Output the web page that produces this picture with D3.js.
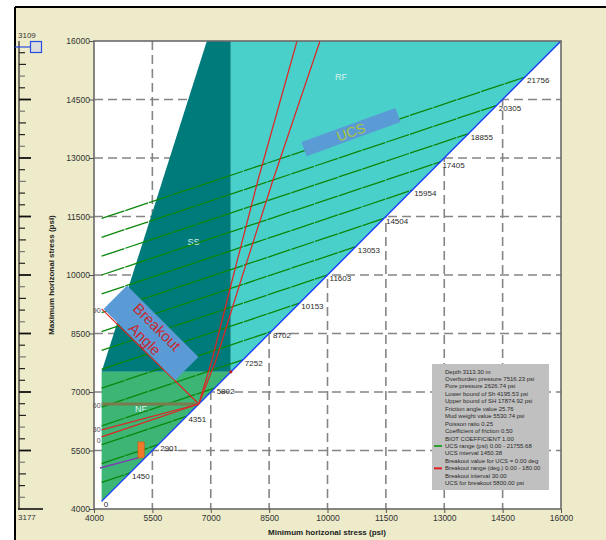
<!DOCTYPE html>
<html><head><meta charset="utf-8">
<script src="https://cdn.jsdelivr.net/npm/d3@7"></script>
<style>
html,body{margin:0;padding:0;background:#fff;}
svg{display:block;font-family:"Liberation Sans",Arial,sans-serif;}
</style></head><body>
<svg id="chart" width="606" height="540"></svg>
<script>
// ---- axis ticks (psi) ----
const xTicks = [4000, 5500, 7000, 8500, 10000, 11500, 13000, 14500, 16000];
const yTicks = [4000, 5500, 7000, 8500, 10000, 11500, 13000, 14500, 16000];
const gridValues = [5500, 7000, 8500, 10000, 11500, 13000, 14500];

// ---- stress state ----
const overburden = 7516.23;
const shLowerBound = 4195.53;

// faulting regime polygons, points as [Shmin, SHmax]
const nfRegion = [[4195.53, 4195.53], [4195.53, 7516.23], [7516.23, 7516.23]];
const ssRegion = [[4195.53, 7516.23], [6900, 16000], [7516.23, 16000], [7516.23, 7516.23]];
const rfRegion = [[7516.23, 7516.23], [7516.23, 16000], [16000, 16000]];
const regimeNames = ["NF", "SS", "RF"];
const regimeLabelAt = [[5210, 6480], [6560, 10780], [10350, 14990]];

// UCS contours: SHmax where each contour leaves Shmin = lower bound,
// and the stress where it meets the Shmin = SHmax line
const ucsLabels = ["0", "1450", "2901", "4351", "5802", "7252", "8702", "10153",
                   "11603", "13053", "14504", "15954", "17405", "18855", "20305", "21756"];
const ucsStartSH = [4198, 4681, 5165, 5648, 6132, 6615, 7099, 7582,
                    8066, 8549, 9033, 9516, 10000, 10483, 10967, 11450];
const ucsEndS = [4199, 4924, 5650, 6375, 7100, 7825, 8550, 9276,
                 10001, 10726, 11451, 12176, 12902, 13627, 14352, 15077];

// measured contour segment and marker
const measuredContour = [[4155, 5051], [5200, 5330]];
const measuredMarker = {shmin: [5130, 5290], shmax: [5310, 5720]};

// breakout-angle lines
const breakoutLines = [
  {label: "90", color: "#e02424", pts: [[4195.53, 9130], [6692, 6692]]},
  {label: "60", color: "#7b7a4c", pts: [[4195.53, 6692], [6692, 6692]]},
  {label: "30", color: "#e02424", pts: [[4195.53, 6030], [6692, 6692]]},
  {label: "0",  color: "#e02424", pts: [[4195.53, 5850], [6692, 6692]]},
  {label: "",   color: "#e02424", pts: [[6692, 6692], [7032, 7821], [7572, 9949], [8214, 12436], [9217, 16000]]},
  {label: "",   color: "#e02424", pts: [[6692, 6692], [7135, 7821], [7803, 9949], [8600, 12436], [9807, 16000]]}
];

// depth slider
const depthTop = "3109", depthBottom = "3177";
const rulerTickCount = 40;

// info panel
const infoLines = [
  {t: "Depth 3113.30 m"},
  {t: "Overburden pressure 7516.23 psi"},
  {t: "Pore pressure 2626.74 psi"},
  {t: "Lower bound of Sh 4195.53 psi"},
  {t: "Upper bound of SH 17874.92 psi"},
  {t: "Friction angle value 25.76"},
  {t: "Mud weight value 5530.74 psi"},
  {t: "Poisson ratio 0.25"},
  {t: "Coefficient of friction 0.50"},
  {t: "BIOT COEFFICIENT 1.00"},
  {t: "UCS range (psi) 0.00 - 21755.68", swatch: "#2ca02c"},
  {t: "UCS interval 1450.38"},
  {t: "Breakout value for UCS = 0.00 deg"},
  {t: "Breakout range (deg.) 0.00 - 180.00", swatch: "#e02020"},
  {t: "Breakout interval 30.00"},
  {t: "UCS for breakout 5800.00 psi"}
];

const svg = d3.select("#chart");
const W = 606, H = 540;

// window background
svg.append("rect").attr("x", 15).attr("y", 7).attr("width", W - 15).attr("height", H - 7).attr("fill", "#edebc9");
svg.append("line").attr("x1", 15).attr("x2", W).attr("y1", 7).attr("y2", 7).attr("stroke", "#000").attr("stroke-width", 2);
svg.append("line").attr("x1", 15).attr("x2", 15).attr("y1", 7).attr("y2", H).attr("stroke", "#000").attr("stroke-width", 2);

const x = d3.scaleLinear().domain([4000, 16000]).range([94, 561]);
const y = d3.scaleLinear().domain([4000, 16000]).range([509, 41]);

// plot background
svg.append("rect").attr("x", x(4000)).attr("y", y(16000))
  .attr("width", x(16000) - x(4000)).attr("height", y(4000) - y(16000)).attr("fill", "#fff");

// grid
const grid = svg.append("g").attr("stroke", "#858585").attr("stroke-width", 1.6).attr("stroke-dasharray", "9,5");
grid.selectAll(".gv").data(gridValues).join("line")
  .attr("x1", d => x(d)).attr("x2", d => x(d)).attr("y1", y(16000)).attr("y2", y(4000));
grid.selectAll(".gh").data(gridValues).join("line")
  .attr("y1", d => y(d)).attr("y2", d => y(d)).attr("x1", x(4000)).attr("x2", x(16000));

// regime fills
const poly = d3.line().x(d => x(d[0])).y(d => y(d[1]));
const regions = [nfRegion, ssRegion, rfRegion];
const regionColors = ["#3db575", "#007b7b", "#4ad0ca"];
svg.append("g").selectAll("path").data(regions).join("path")
  .attr("d", d => poly(d) + "Z").attr("fill", (d, i) => regionColors[i]);

svg.append("g").selectAll("text").data(regimeNames).join("text")
  .attr("x", (d, i) => x(regimeLabelAt[i][0])).attr("y", (d, i) => y(regimeLabelAt[i][1]))
  .attr("font-size", 9).attr("fill", "#d9f2ee").attr("text-anchor", "middle").text(d => d);

// UCS contours
const ucsG = svg.append("g");
ucsG.selectAll("line").data(ucsLabels).join("line")
  .attr("x1", x(shLowerBound)).attr("y1", (d, i) => y(ucsStartSH[i]))
  .attr("x2", (d, i) => x(ucsEndS[i])).attr("y2", (d, i) => y(ucsEndS[i]))
  .attr("stroke", "#0b870b").attr("stroke-width", 1.3).attr("stroke-dasharray", "24,1");
ucsG.selectAll("text").data(ucsLabels).join("text")
  .attr("x", (d, i) => x(ucsEndS[i]) + 2).attr("y", (d, i) => y(ucsEndS[i]) + 6)
  .attr("font-size", 8).attr("fill", "#2a2a2a").text(d => d);

// measured contour and marker
svg.append("path").attr("d", poly(measuredContour)).attr("stroke", "#7a3fb0").attr("stroke-width", 1.5).attr("fill", "none");
svg.append("rect")
  .attr("x", x(measuredMarker.shmin[0])).attr("y", y(measuredMarker.shmax[1]))
  .attr("width", x(measuredMarker.shmin[1]) - x(measuredMarker.shmin[0]))
  .attr("height", y(measuredMarker.shmax[0]) - y(measuredMarker.shmax[1]))
  .attr("fill", "#f07a2a").attr("stroke", "#c85a10").attr("stroke-width", 0.6);

// Shmin = SHmax line
svg.append("line").attr("x1", x(shLowerBound)).attr("y1", y(shLowerBound))
  .attr("x2", x(16000)).attr("y2", y(16000)).attr("stroke", "#1a3cff").attr("stroke-width", 1.4);

// breakout lines
const boG = svg.append("g");
boG.selectAll("path").data(breakoutLines).join("path")
  .attr("d", d => poly(d.pts)).attr("fill", "none").attr("stroke", d => d.color)
  .attr("stroke-width", d => d.label === "60" ? 3 : 1.2);
boG.selectAll("text").data(breakoutLines.filter(d => d.label)).join("text")
  .attr("x", d => x(d.pts[0][0]) - 1)
  .attr("y", d => y(d.pts[0][1]) + (d.label === "0" ? 6 : d.label === "30" ? 2 : 4))
  .attr("text-anchor", "end").attr("font-size", 7).attr("fill", "#444").text(d => d.label);
svg.append("circle").attr("cx", x(overburden)).attr("cy", y(overburden)).attr("r", 1.6).attr("fill", "#c02020");

// annotation boxes
function tag(cx, cy, w, h, ang, lines, color, fs) {
  const g = svg.append("g").attr("transform", `translate(${cx},${cy}) rotate(${ang})`);
  g.append("rect").attr("x", -w / 2).attr("y", -h / 2).attr("width", w).attr("height", h).attr("fill", "#5b9bd5");
  lines.forEach((t, i) => {
    g.append("text").attr("x", 0).attr("y", (i - (lines.length - 1) / 2) * fs * 1.15 + fs * 0.36)
      .attr("text-anchor", "middle").attr("font-size", fs).attr("fill", color).text(t);
  });
}
tag(x(10604), y(13666), 100, 15, -20, ["UCS"], "#a9c43c", 14);
tag(x(5465), y(8513), 101, 33, 45, ["Breakout", "Angle"], "#c8282c", 15);

// frame
svg.append("rect").attr("x", x(4000)).attr("y", y(16000))
  .attr("width", x(16000) - x(4000)).attr("height", y(4000) - y(16000))
  .attr("fill", "none").attr("stroke", "#6a6a6a").attr("stroke-width", 1.6);

// axes
const xAxis = d3.axisBottom(x).tickValues(xTicks).tickSize(4).tickFormat(d3.format("d"));
const yAxis = d3.axisLeft(y).tickValues(yTicks).tickSize(5).tickFormat(d3.format("d"));
const gx = svg.append("g").attr("transform", `translate(0,${y(4000)})`).call(xAxis);
const gy = svg.append("g").attr("transform", `translate(${x(4000)},0)`).call(yAxis);
[gx, gy].forEach(g => {
  g.select(".domain").remove();
  g.selectAll("line").attr("stroke", "#555");
  g.selectAll("text").attr("font-size", 8.5).attr("fill", "#333").attr("font-family", "Liberation Sans, Arial, sans-serif");
});
gy.selectAll("text").attr("x", -4).attr("dy", "0.35em");
gx.selectAll("text").attr("y", 6);

svg.append("text").attr("x", 327).attr("y", 535).attr("text-anchor", "middle")
  .attr("font-size", 8).attr("font-weight", "bold").attr("fill", "#222").text("Minimum horizonal stress (psi)");
svg.append("text").attr("transform", "translate(54,275) rotate(-90)").attr("text-anchor", "middle")
  .attr("font-size", 8).attr("font-weight", "bold").attr("fill", "#222").text("Maximum horizonal stress (psi)");

// depth slider
const r = d3.scaleLinear().domain([0, rulerTickCount]).range([y(16000), y(4000)]);
const ruler = svg.append("g");
ruler.append("line").attr("x1", 19).attr("x2", 19).attr("y1", r(0)).attr("y2", r(rulerTickCount)).attr("stroke", "#222").attr("stroke-width", 1.2);
ruler.append("line").attr("x1", 18).attr("x2", 43).attr("y1", r(rulerTickCount)).attr("y2", r(rulerTickCount)).attr("stroke", "#111").attr("stroke-width", 1.6);
ruler.selectAll(".tk").data(d3.range(1, rulerTickCount)).join("line")
  .attr("x1", 19).attr("x2", d => d % 5 === 0 ? 31 : (d % 5 === 2 ? 26 : 25))
  .attr("y1", d => r(d)).attr("y2", d => r(d))
  .attr("stroke", d => d % 5 === 0 ? "#111" : (d % 3 === 0 ? "#777" : "#222"))
  .attr("stroke-width", d => d % 5 === 0 ? 1.8 : 1.2);
ruler.append("text").attr("x", 18).attr("y", 38).attr("font-size", 8).attr("fill", "#333").text(depthTop);
ruler.append("text").attr("x", 18).attr("y", 520).attr("font-size", 8).attr("fill", "#333").text(depthBottom);
ruler.append("line").attr("x1", 15).attr("x2", 31).attr("y1", 47).attr("y2", 47).attr("stroke", "#2a4de0").attr("stroke-width", 1.2);
ruler.append("rect").attr("x", 30.5).attr("y", 41.5).attr("width", 11).attr("height", 11)
  .attr("fill", "#dcdcdc").attr("stroke", "#2a4de0").attr("stroke-width", 1.2);

// info panel
const info = svg.append("g").attr("transform", "translate(432,364)");
info.append("rect").attr("width", 117).attr("height", 126).attr("fill", "#c0c0c0");
info.selectAll("text").data(infoLines).join("text")
  .attr("x", 13).attr("y", (d, i) => 9.5 + i * 7.45)
  .attr("font-size", 6).attr("fill", "#2a2a2a").text(d => d.t);
info.selectAll(".sw").data(infoLines.filter(d => d.swatch)).join("line")
  .attr("x1", 2).attr("x2", 10)
  .attr("y1", d => 7.5 + infoLines.indexOf(d) * 7.45).attr("y2", d => 7.5 + infoLines.indexOf(d) * 7.45)
  .attr("stroke", d => d.swatch).attr("stroke-width", 2);
</script>
</body></html>
